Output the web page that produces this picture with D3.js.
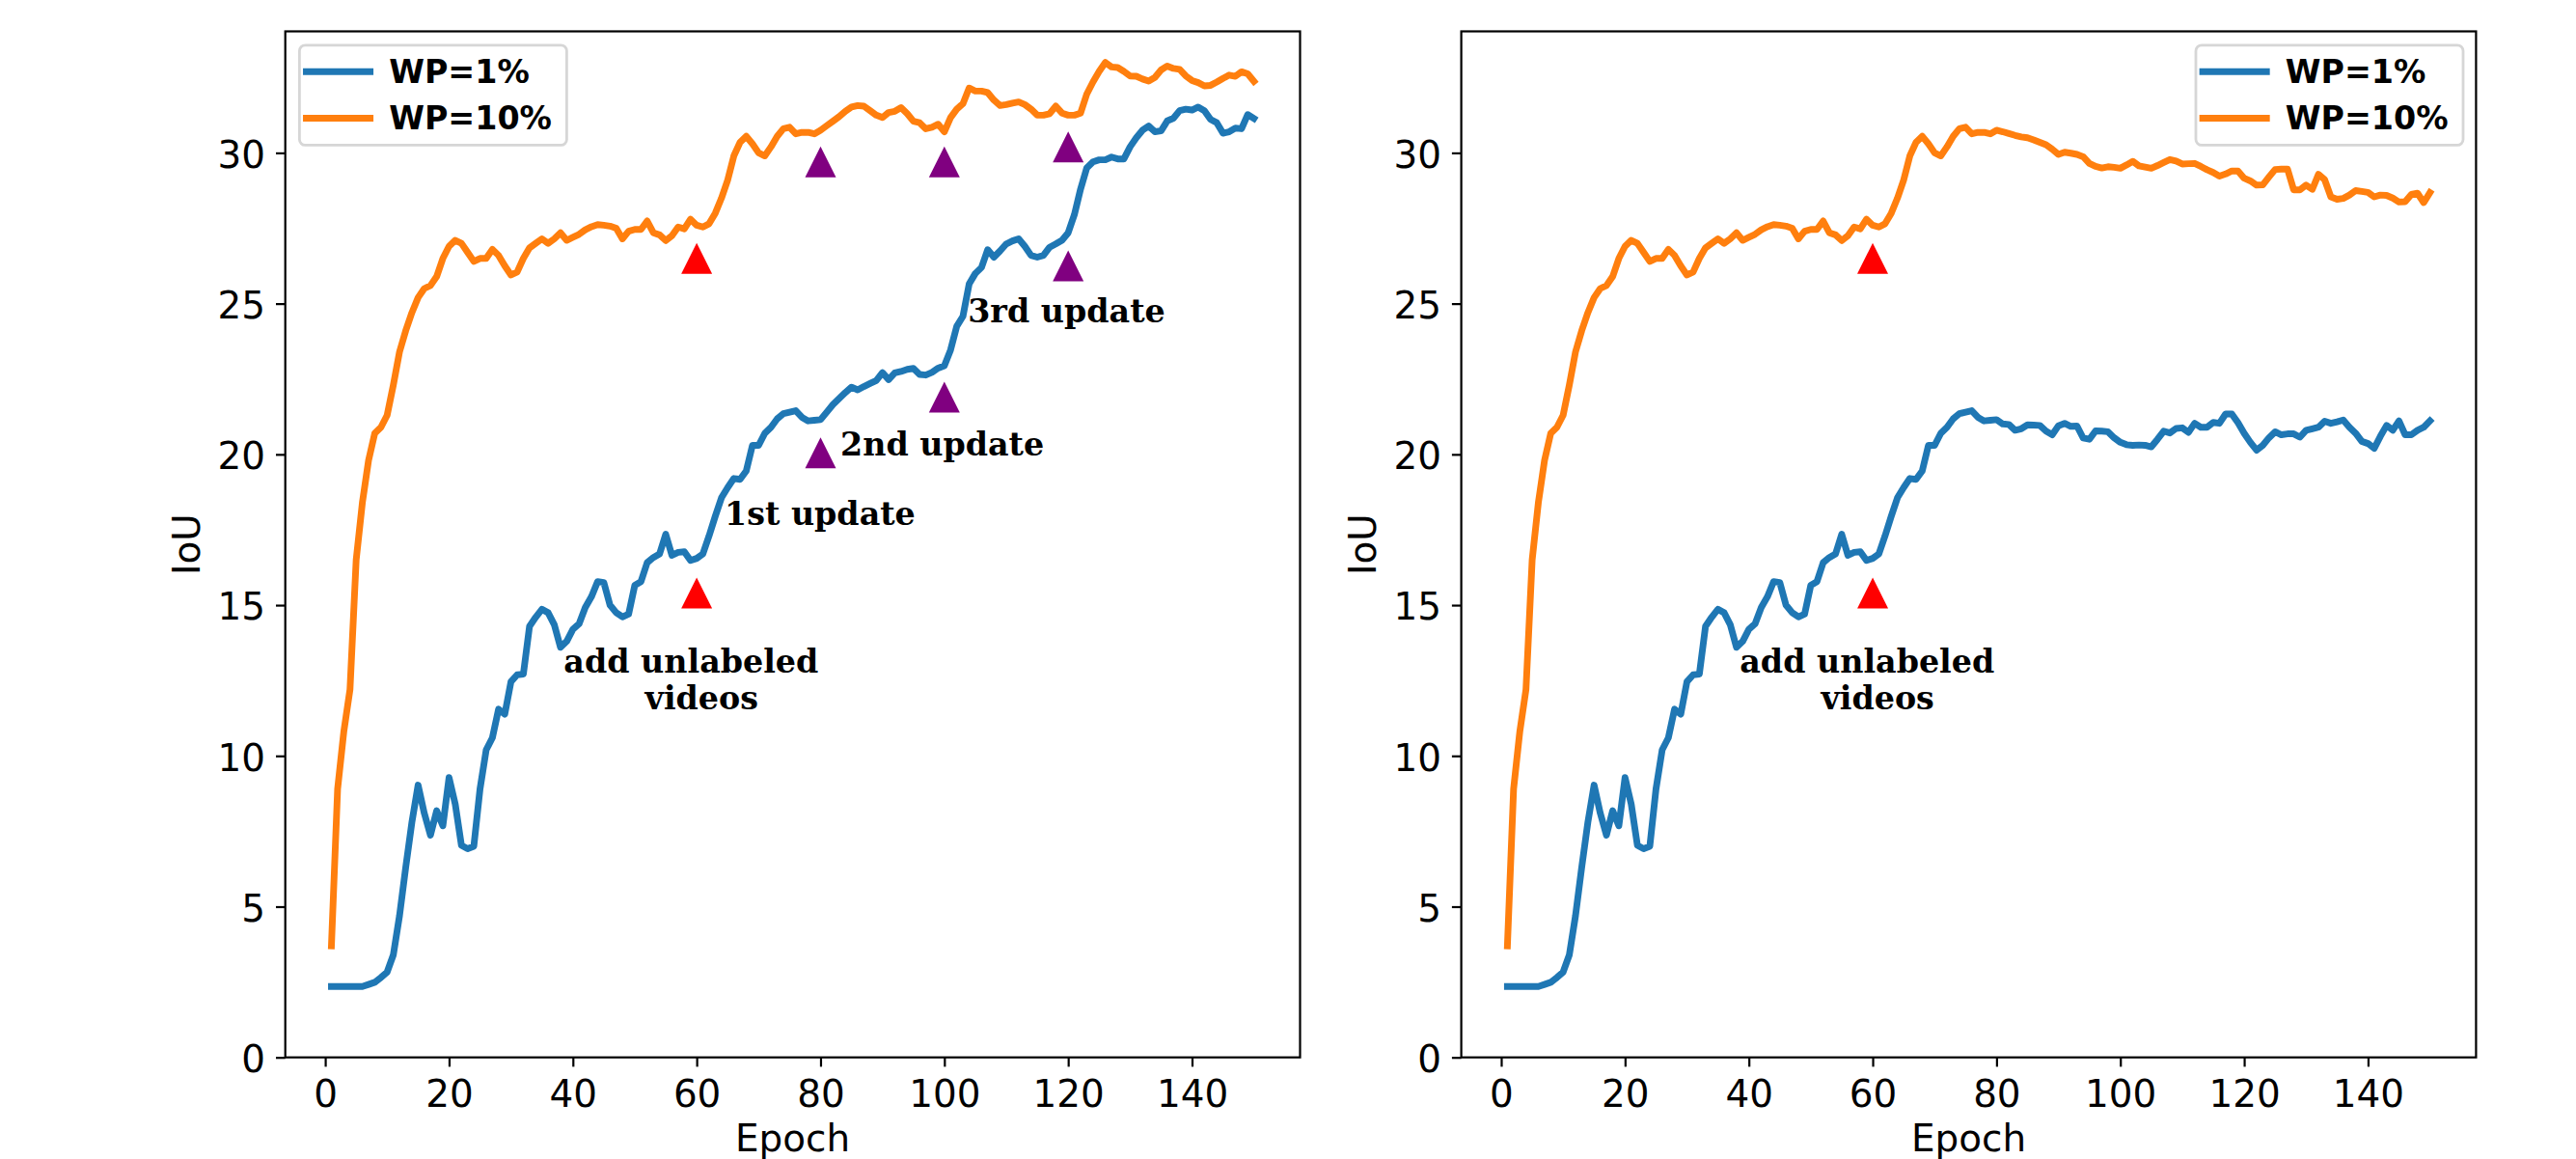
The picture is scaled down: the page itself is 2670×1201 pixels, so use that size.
<!DOCTYPE html>
<html>
<head>
<meta charset="utf-8">
<script src="https://cdn.jsdelivr.net/npm/d3@7"></script>
<style>
body { margin: 0; background: #fff; }
svg { display: block; background: #fff; }
.axis text { font-family: "DejaVu Sans"; font-size: 38.9px; fill: #000; }
.axis line { stroke: #000; stroke-width: 2.2; }
</style>
</head>
<body>
<svg></svg>
<script>
// epochs 1..150
var epochs = d3.range(1, 151);

var leftWP1 = [
 2.35, 2.35, 2.35, 2.35, 2.35, 2.35, 2.42, 2.49, 2.65, 2.83,
 3.4, 4.7, 6.3, 7.8, 9.03, 8.1, 7.37, 8.18, 7.68, 9.28,
 8.4, 7.03, 6.92, 7.0, 8.9, 10.2, 10.6, 11.55, 11.38, 12.46,
 12.69, 12.71, 14.3, 14.6, 14.86, 14.75, 14.35, 13.6, 13.8, 14.2,
 14.38, 14.92, 15.28, 15.78, 15.75, 15.0, 14.75, 14.61, 14.7, 15.66,
 15.78, 16.41, 16.58, 16.7, 17.35, 16.65, 16.75, 16.77, 16.48, 16.55,
 16.7, 17.3, 17.95, 18.56, 18.9, 19.2, 19.17, 19.45, 20.3, 20.3,
 20.7, 20.9, 21.18, 21.35, 21.4, 21.45, 21.23, 21.11, 21.13, 21.15,
 21.4, 21.65, 21.85, 22.05, 22.23, 22.14, 22.25, 22.35, 22.45, 22.71,
 22.48, 22.7, 22.75, 22.82, 22.85, 22.65, 22.63, 22.72, 22.86, 22.94,
 23.46, 24.25, 24.58, 25.65, 26.0, 26.2, 26.79, 26.54, 26.75, 26.98,
 27.08, 27.15, 26.9, 26.6, 26.54, 26.6, 26.87, 26.98, 27.1, 27.35,
 27.95, 28.8, 29.5, 29.7, 29.77, 29.77, 29.86, 29.8, 29.8, 30.2,
 30.5, 30.75, 30.89, 30.7, 30.73, 31.06, 31.15, 31.4, 31.45, 31.42,
 31.52, 31.4, 31.11, 31.0, 30.65, 30.7, 30.82, 30.8, 31.27, 31.14
];

var leftWP10 = [
 3.7, 8.9, 10.8, 12.2, 16.5, 18.4, 19.8, 20.7, 20.9, 21.3,
 22.3, 23.4, 24.1, 24.7, 25.2, 25.5, 25.6, 25.9, 26.5, 26.9,
 27.1, 27.0, 26.7, 26.4, 26.5, 26.5, 26.8, 26.6, 26.25, 25.95,
 26.05, 26.5, 26.85, 27.0, 27.15, 27.0, 27.15, 27.35, 27.1, 27.2,
 27.3, 27.45, 27.55, 27.62, 27.6, 27.57, 27.5, 27.15, 27.4, 27.46,
 27.46, 27.74, 27.35, 27.28, 27.09, 27.25, 27.54, 27.48, 27.8, 27.6,
 27.54, 27.65, 28.0, 28.5, 29.1, 29.9, 30.35, 30.55, 30.3, 30.0,
 29.9, 30.2, 30.55, 30.8, 30.85, 30.63, 30.68, 30.68, 30.63, 30.75,
 30.9, 31.05, 31.2, 31.38, 31.52, 31.57, 31.55, 31.4, 31.25, 31.17,
 31.34, 31.38, 31.5, 31.3, 31.05, 31.0, 30.8, 30.85, 30.95, 30.7,
 31.17, 31.45, 31.63, 32.15, 32.05, 32.05, 32.0, 31.75, 31.57, 31.6,
 31.65, 31.69, 31.6, 31.45, 31.25, 31.25, 31.3, 31.55, 31.32, 31.25,
 31.25, 31.32, 31.95, 32.35, 32.7, 33.0, 32.85, 32.83, 32.7, 32.55,
 32.54, 32.45, 32.38, 32.5, 32.75, 32.88, 32.8, 32.77, 32.55, 32.4,
 32.33, 32.22, 32.24, 32.35, 32.47, 32.58, 32.54, 32.69, 32.62, 32.37
];

var rightWP1 = [
 2.35, 2.35, 2.35, 2.35, 2.35, 2.35, 2.42, 2.49, 2.65, 2.83,
 3.4, 4.7, 6.3, 7.8, 9.03, 8.1, 7.37, 8.18, 7.68, 9.28,
 8.4, 7.03, 6.92, 7.0, 8.9, 10.2, 10.6, 11.55, 11.38, 12.46,
 12.69, 12.71, 14.3, 14.6, 14.86, 14.75, 14.35, 13.6, 13.8, 14.2,
 14.38, 14.92, 15.28, 15.78, 15.75, 15.0, 14.75, 14.61, 14.7, 15.66,
 15.78, 16.41, 16.58, 16.7, 17.35, 16.65, 16.75, 16.77, 16.48, 16.55,
 16.7, 17.3, 17.95, 18.56, 18.9, 19.2, 19.17, 19.45, 20.3, 20.3,
 20.7, 20.9, 21.18, 21.35, 21.4, 21.45, 21.23, 21.11, 21.13, 21.15,
 21.01, 20.99, 20.8, 20.85, 20.98, 20.97, 20.96, 20.77, 20.65, 20.95,
 21.03, 20.93, 20.94, 20.54, 20.5, 20.78, 20.77, 20.75, 20.55, 20.4,
 20.32, 20.3, 20.31, 20.3, 20.25, 20.5, 20.77, 20.71, 20.86, 20.88,
 20.73, 21.03, 20.9, 20.9, 21.06, 21.03, 21.34, 21.34, 21.05, 20.7,
 20.4, 20.14, 20.3, 20.55, 20.75, 20.65, 20.68, 20.68, 20.57, 20.8,
 20.85, 20.9, 21.1, 21.03, 21.08, 21.14, 20.9, 20.7, 20.43, 20.36,
 20.2, 20.6, 20.96, 20.8, 21.11, 20.65, 20.65, 20.8, 20.9, 21.11
];

var rightWP10 = [
 3.7, 8.9, 10.8, 12.2, 16.5, 18.4, 19.8, 20.7, 20.9, 21.3,
 22.3, 23.4, 24.1, 24.7, 25.2, 25.5, 25.6, 25.9, 26.5, 26.9,
 27.1, 27.0, 26.7, 26.4, 26.5, 26.5, 26.8, 26.6, 26.25, 25.95,
 26.05, 26.5, 26.85, 27.0, 27.15, 27.0, 27.15, 27.35, 27.1, 27.2,
 27.3, 27.45, 27.55, 27.62, 27.6, 27.57, 27.5, 27.15, 27.4, 27.46,
 27.46, 27.74, 27.35, 27.28, 27.09, 27.25, 27.54, 27.48, 27.8, 27.6,
 27.54, 27.65, 28.0, 28.5, 29.1, 29.9, 30.35, 30.55, 30.3, 30.0,
 29.9, 30.2, 30.55, 30.8, 30.85, 30.63, 30.68, 30.68, 30.63, 30.75,
 30.7, 30.64, 30.58, 30.53, 30.5, 30.43, 30.35, 30.27, 30.12, 29.95,
 30.02, 29.99, 29.95, 29.87, 29.65, 29.55, 29.5, 29.54, 29.52, 29.49,
 29.6, 29.72, 29.57, 29.53, 29.49, 29.58, 29.68, 29.78, 29.73, 29.63,
 29.64, 29.65, 29.55, 29.44, 29.35, 29.23, 29.3, 29.4, 29.4, 29.16,
 29.07, 28.93, 28.94, 29.2, 29.45, 29.46, 29.46, 28.77, 28.77, 28.93,
 28.79, 29.29, 29.11, 28.54, 28.46, 28.49, 28.6, 28.75, 28.72, 28.69,
 28.54, 28.6, 28.59, 28.5, 28.37, 28.38, 28.62, 28.66, 28.35, 28.68
];

var seriesNames = ["WP=1%", "WP=10%"];
var seriesColors = ["#1f77b4", "#ff7f0e"];

var xTicks = [0, 20, 40, 60, 80, 100, 120, 140];
var yTicks = [0, 5, 10, 15, 20, 25, 30];
var xDomain = [-6.45, 157.45];
var yDomain = [0, 34.03];

// red = unlabeled videos added, purple = pseudo label updates
var redEpochs = [60, 60];
var redValues = [26.5, 15.4];
var purpleEpochs = [80, 100, 120, 80, 100, 120];
var purpleValues = [29.7, 29.7, 30.2, 20.05, 21.9, 26.25];

var leftNotes = [
  {text: "add unlabeled", epoch: 59.1, iou: 12.75, anchor: "middle"},
  {text: "videos", epoch: 60.8, iou: 11.55, anchor: "middle"},
  {text: "1st update", epoch: 64.5, iou: 17.66, anchor: "start"},
  {text: "2nd update", epoch: 83.2, iou: 19.97, anchor: "start"},
  {text: "3rd update", epoch: 103.8, iou: 24.37, anchor: "start"}
];
var rightNotes = leftNotes.slice(0, 2);

var screen = {width: 2670, height: 1201};
var plotBox = {top: 32.5, width: 1051.8, height: 1063.2};

var svg = d3.select("svg")
    .attr("width", screen.width)
    .attr("height", screen.height);

var makePanel = function(left, wp1, wp10, showPurple, notes, legendRight)
{
    var g = svg.append("g")
        .attr("transform", "translate(" + left + "," + plotBox.top + ")");

    var xScale = d3.scaleLinear().domain(xDomain).range([0, plotBox.width]);
    var yScale = d3.scaleLinear().domain(yDomain).range([plotBox.height, 0]);

    var xAxis = d3.axisBottom(xScale).tickValues(xTicks).tickSize(9.7).tickPadding(13.5);
    var yAxis = d3.axisLeft(yScale).tickValues(yTicks).tickSize(9.7).tickPadding(11);

    g.append("g").classed("axis", true)
        .attr("transform", "translate(0," + plotBox.height + ")")
        .call(xAxis);
    g.append("g").classed("axis", true)
        .attr("id", "yAxis")
        .call(yAxis);
    g.selectAll(".axis .domain").remove();
    g.selectAll("#yAxis text").attr("dy", "0.38em");

    var line = d3.line()
        .x(function(v, i) { return xScale(epochs[i]); })
        .y(function(v) { return yScale(v); });

    g.selectAll(".curve")
        .data([wp1, wp10])
        .enter()
        .append("path")
        .attr("class", "curve")
        .attr("d", line)
        .attr("fill", "none")
        .attr("stroke", function(d, i) { return seriesColors[i]; })
        .attr("stroke-width", 6.94)
        .attr("stroke-linejoin", "round")
        .attr("stroke-linecap", "square");

    // matplotlib style "^" marker, centred on its box
    var tri = function(e, v)
    {
        var cx = xScale(e), cy = yScale(v), h = 16;
        return "M" + cx + "," + (cy - h) + "L" + (cx - h) + "," + (cy + h) + "L" + (cx + h) + "," + (cy + h) + "Z";
    }

    g.selectAll(".red")
        .data(redEpochs)
        .enter()
        .append("path")
        .attr("d", function(e, i) { return tri(e, redValues[i]); })
        .attr("fill", "#ff0000");

    if (showPurple)
    {
        g.selectAll(".purple")
            .data(purpleEpochs)
            .enter()
            .append("path")
            .attr("d", function(e, i) { return tri(e, purpleValues[i]); })
            .attr("fill", "#800080");
    }

    g.selectAll(".note")
        .data(notes)
        .enter()
        .append("text")
        .attr("x", function(n) { return xScale(n.epoch); })
        .attr("y", function(n) { return yScale(n.iou); })
        .attr("text-anchor", function(n) { return n.anchor; })
        .style("font-family", "'DejaVu Serif'")
        .style("font-weight", "bold")
        .style("font-size", "33.3px")
        .text(function(n) { return n.text; });

    // frame
    g.append("rect")
        .attr("width", plotBox.width)
        .attr("height", plotBox.height)
        .attr("fill", "none")
        .attr("stroke", "#000")
        .attr("stroke-width", 2.2);

    // axis labels
    g.append("text")
        .attr("x", plotBox.width / 2)
        .attr("y", plotBox.height + 97.3)
        .attr("text-anchor", "middle")
        .style("font-family", "'DejaVu Sans'")
        .style("font-size", "38.9px")
        .text("Epoch");

    g.append("text")
        .attr("transform", "translate(-89," + (plotBox.height / 2) + ") rotate(-90)")
        .attr("text-anchor", "middle")
        .style("font-family", "'DejaVu Sans'")
        .style("font-size", "38.9px")
        .text("IoU");

    // legend
    var legW = 277, legH = 103.6;
    var legX = legendRight ? plotBox.width - 13.4 - legW : 14.7;
    var leg = g.append("g").attr("transform", "translate(" + legX + ",14.3)");
    leg.append("rect")
        .attr("width", legW)
        .attr("height", legH)
        .attr("rx", 6)
        .attr("fill", "#fff")
        .attr("fill-opacity", 0.8)
        .attr("stroke", "#d6d6d6")
        .attr("stroke-width", 2.8);

    var rows = leg.selectAll(".row")
        .data(seriesNames)
        .enter()
        .append("g")
        .attr("transform", function(d, i) { return "translate(0," + (27.5 + i * 48.2) + ")"; });
    rows.append("line")
        .attr("x1", 7.1).attr("x2", 73.2)
        .attr("stroke", function(d, i) { return seriesColors[i]; })
        .attr("stroke-width", 6.94)
        .attr("stroke-linecap", "square");
    rows.append("text")
        .attr("x", 92.8)
        .attr("y", 11.5)
        .style("font-family", "'DejaVu Sans'")
        .style("font-weight", "bold")
        .style("font-size", "33.3px")
        .text(function(d) { return d; });
}

makePanel(295.7, leftWP1, leftWP10, true, leftNotes, false);
makePanel(1514.6, rightWP1, rightWP10, false, rightNotes, true);
</script>
</body>
</html>
